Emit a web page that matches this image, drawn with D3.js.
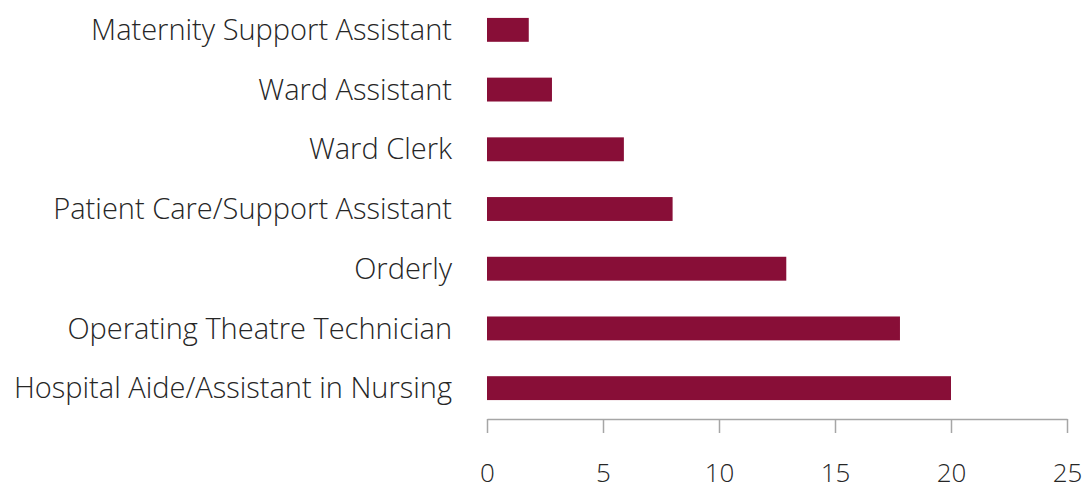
<!DOCTYPE html>
<html>
<head>
<meta charset="utf-8">
<script src="https://cdn.jsdelivr.net/npm/d3@7"></script>
<style>
  body { margin: 0; background: #fff; }
  text { font-family: "Open Sans", sans-serif; fill: #262626; }
</style>
</head>
<body>
<script>
// chart data, top to bottom
var roles = [
  "Maternity Support Assistant",
  "Ward Assistant",
  "Ward Clerk",
  "Patient Care/Support Assistant",
  "Orderly",
  "Operating Theatre Technician",
  "Hospital Aide/Assistant in Nursing"
];
var counts = [1.8, 2.8, 5.9, 8.0, 12.9, 17.8, 20.0];
var xTicks = [0, 5, 10, 15, 20, 25];

var width = 1084, height = 489;
var barColor = "#880e37";

var svg = d3.select("body").append("svg")
  .attr("width", width)
  .attr("height", height);

var x = d3.scaleLinear().domain([0, 25]).range([487, 1067]);
var y = d3.scaleBand().domain(roles).range([0, 418])
  .paddingInner(0.6).paddingOuter(0.3);

var data = roles.map(function (r, i) { return { role: r, value: counts[i] }; });

svg.append("g")
  .selectAll("rect")
  .data(data)
  .enter().append("rect")
  .attr("x", x(0))
  .attr("y", function (d) { return y(d.role); })
  .attr("width", function (d) { return x(d.value) - x(0); })
  .attr("height", y.bandwidth())
  .attr("fill", barColor);

// category labels
svg.append("g")
  .selectAll("text")
  .data(roles)
  .enter().append("text")
  .attr("x", 452)
  .attr("y", function (d) { return y(d) + y.bandwidth() / 2; })
  .attr("dy", "0.35em")
  .attr("text-anchor", "end")
  .style("font-size", "29px")
  .style("font-weight", 300)
  .text(function (d) { return d; });

// bottom axis
var axis = d3.axisBottom(x).tickValues(xTicks).tickSize(14).tickPadding(31)
  .tickSizeOuter(0);
var ag = svg.append("g").attr("transform", "translate(0,419)").call(axis);
ag.select(".domain").attr("stroke", "#a6a6a6").attr("stroke-width", 1.5);
ag.selectAll(".tick line").attr("stroke", "#a6a6a6").attr("stroke-width", 1.5);
ag.selectAll(".tick text")
  .attr("fill", "#262626")
  .style("font-family", "'Open Sans', sans-serif")
  .style("font-size", "26px")
  .style("font-weight", 300);
</script>
</body>
</html>
